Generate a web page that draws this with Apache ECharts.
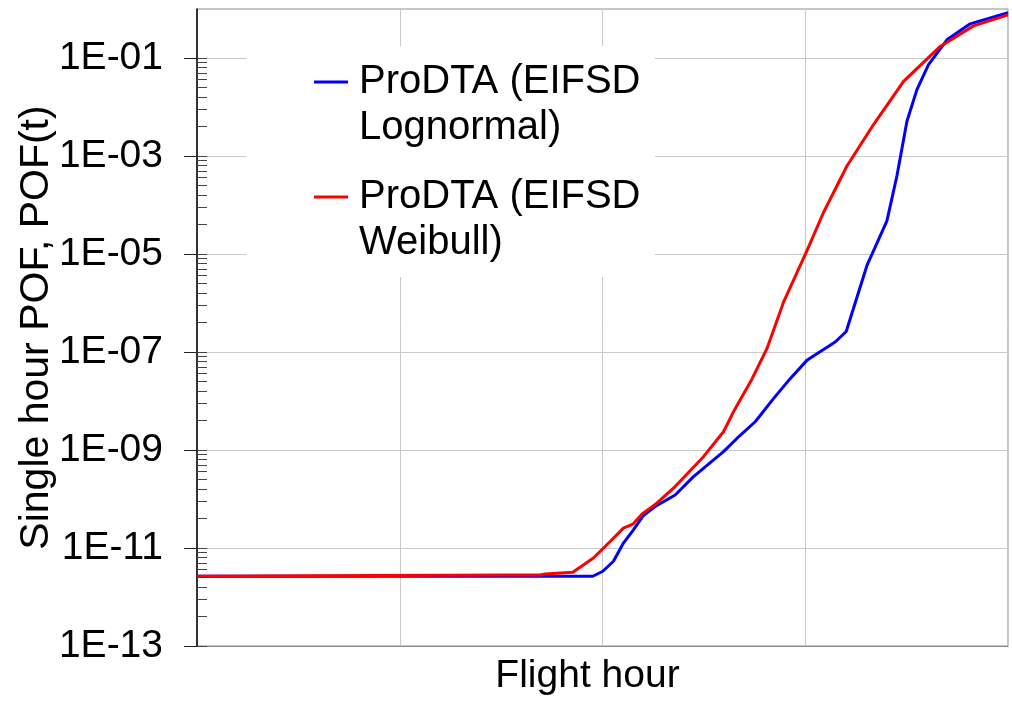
<!DOCTYPE html>
<html>
<head>
<meta charset="utf-8">
<script src="https://cdn.jsdelivr.net/npm/echarts@6/dist/echarts.min.js"></script>
<style>
  html, body { margin: 0; padding: 0; background: #fff; }
  #main { width: 1012px; height: 701px; }
</style>
</head>
<body>
<div id="main"></div>
<script>
const FONT = '"Liberation Sans", Arial, sans-serif'

// flight hour (arbitrary 0..100, no labels on the axis)
const lognormalX = [0, 48.8, 50.04, 51.35, 52.58, 53.81, 55.05, 56.49, 58.96, 61.22, 64.92, 66.57, 68.83, 71.08, 73.14, 75.2, 78.69, 80.05, 82.6, 85.07, 86.3, 87.54, 88.77, 90.2, 92.47, 95.34, 100]
const lognormalY = [2.65e-12, 2.65e-12, 3.35e-12, 5.36e-12, 1.26e-11, 2.35e-11, 4.61e-11, 7.03e-11, 1.21e-10, 2.86e-10, 9.25e-10, 1.72e-9, 3.77e-9, 1.12e-8, 2.86e-8, 6.75e-8, 1.6e-7, 2.62e-7, 5.77e-6, 4.74e-5, 3.9e-4, 5.13e-3, 2.26e-2, 7.3e-2, 0.235, 0.498, 0.845]

const weibullX = [0, 37.99, 42.31, 42.92, 46.34, 48.88, 50.94, 52.58, 53.74, 54.85, 56.7, 58.75, 62.45, 64.92, 66.15, 68.42, 70.27, 72.32, 75.2, 77.25, 80.14, 83.42, 87.12, 91.64, 95.75, 100]
const weibullY = [2.65e-12, 2.82e-12, 2.82e-12, 2.95e-12, 3.2e-12, 6.25e-12, 1.36e-11, 2.55e-11, 3.07e-11, 4.91e-11, 8.2e-11, 1.66e-10, 7.31e-10, 2.36e-9, 6.01e-9, 2.79e-8, 1.17e-7, 1.04e-6, 1.16e-5, 7.03e-5, 6.24e-4, 4.39e-3, 3.33e-2, 0.172, 0.453, 0.759]

const seriesNames = ['ProDTA (EIFSD\nLognormal)', 'ProDTA (EIFSD\nWeibull)']
const yTicks = [1e-13, 1e-11, 1e-9, 1e-7, 1e-5, 1e-3, 1e-1]

// minor ticks like the original log axis (major unit 100): n^2 * major
const minorTicks = []
yTicks.slice(0, -1).forEach(function (m) {
  for (let n = 2; n <= 9; n++) minorTicks.push(m * n * n)
})

const pairs = (xs, ys) => xs.map((x, i) => [x, ys[i]])

const chart = echarts.init(document.getElementById('main'))

const legendCommon = {
  orient: 'vertical',
  left: 314,
  padding: 0,
  icon: 'rect',
  itemWidth: 34,
  itemHeight: 3,
  selectedMode: false,
  formatter: function (name) {
    return '\n' + name
  },
  textStyle: {
    fontFamily: FONT,
    fontSize: 40,
    lineHeight: 46,
    color: '#000',
    padding: [0, 0, 0, 6]
  }
}

const option = {
  animation: false,
  backgroundColor: '#fff',
  textStyle: { fontFamily: FONT },
  grid: {
    left: 197,
    right: 4,
    top: 9,
    bottom: 53,
    show: true,
    borderColor: '#8c8c8c',
    borderWidth: 1
  },
  graphic: [
    {
      // white box behind the legend, hides the grid there
      type: 'rect',
      left: 246,
      top: 46,
      z: 1,
      shape: { width: 409, height: 231 },
      style: { fill: '#fff' }
    }
  ],
  legend: [
    Object.assign({}, legendCommon, { top: 13, data: [seriesNames[0]] }),
    Object.assign({}, legendCommon, { top: 128, data: [seriesNames[1]] })
  ],
  xAxis: {
    type: 'value',
    min: 0,
    max: 100,
    interval: 25,
    name: 'Flight hour',
    nameLocation: 'middle',
    nameGap: 11,
    nameMoveOverlap: false,
    nameTextStyle: {
      fontFamily: FONT,
      fontSize: 39,
      color: '#000',
      verticalAlign: 'top',
      padding: [0, 30, 0, 0]
    },
    axisLine: { lineStyle: { color: '#8c8c8c', width: 1 } },
    axisTick: { show: false },
    axisLabel: { show: false },
    splitLine: { lineStyle: { color: '#c8c8c8', width: 1 } }
  },
  yAxis: [
    {
      type: 'log',
      logBase: 10,
      min: 1e-13,
      max: 1,
      interval: 2,
      name: 'Single hour POF, POF(t)',
      nameLocation: 'middle',
      nameGap: 140,
      nameMoveOverlap: false,
      nameTextStyle: { fontFamily: FONT, fontSize: 41, color: '#000' },
      axisLine: { show: true, lineStyle: { color: '#000', width: 1.5 } },
      axisTick: {
        show: true,
        customValues: yTicks,
        length: 13,
        lineStyle: { color: '#222', width: 1 }
      },
      axisLabel: {
        customValues: yTicks,
        fontFamily: FONT,
        fontSize: 39,
        color: '#000',
        margin: 34,
        formatter: function (v) {
          const e = Math.round(Math.log10(v))
          return '1E' + (e < 0 ? '-' : '+') + String(Math.abs(e)).padStart(2, '0')
        }
      },
      splitLine: { show: true, lineStyle: { color: '#c8c8c8', width: 1 } }
    },
    {
      // inner ticks only: majors crossing the axis and the minor ones
      type: 'log',
      logBase: 10,
      min: 1e-13,
      max: 1,
      position: 'left',
      axisLine: { show: false },
      axisTick: {
        show: true,
        inside: true,
        length: 10,
        customValues: yTicks.concat(minorTicks),
        lineStyle: { color: '#444', width: 1 }
      },
      axisLabel: { show: false },
      splitLine: { show: false }
    }
  ],
  series: [
    {
      name: seriesNames[0],
      type: 'line',
      data: pairs(lognormalX, lognormalY),
      showSymbol: false,
      color: '#0000ff',
      lineStyle: { width: 3, color: '#0000ff' },
      z: 3
    },
    {
      name: seriesNames[1],
      type: 'line',
      data: pairs(weibullX, weibullY),
      showSymbol: false,
      color: '#ff0000',
      lineStyle: { width: 3, color: '#ff0000' },
      z: 4
    }
  ]
}

chart.setOption(option)
</script>
</body>
</html>
